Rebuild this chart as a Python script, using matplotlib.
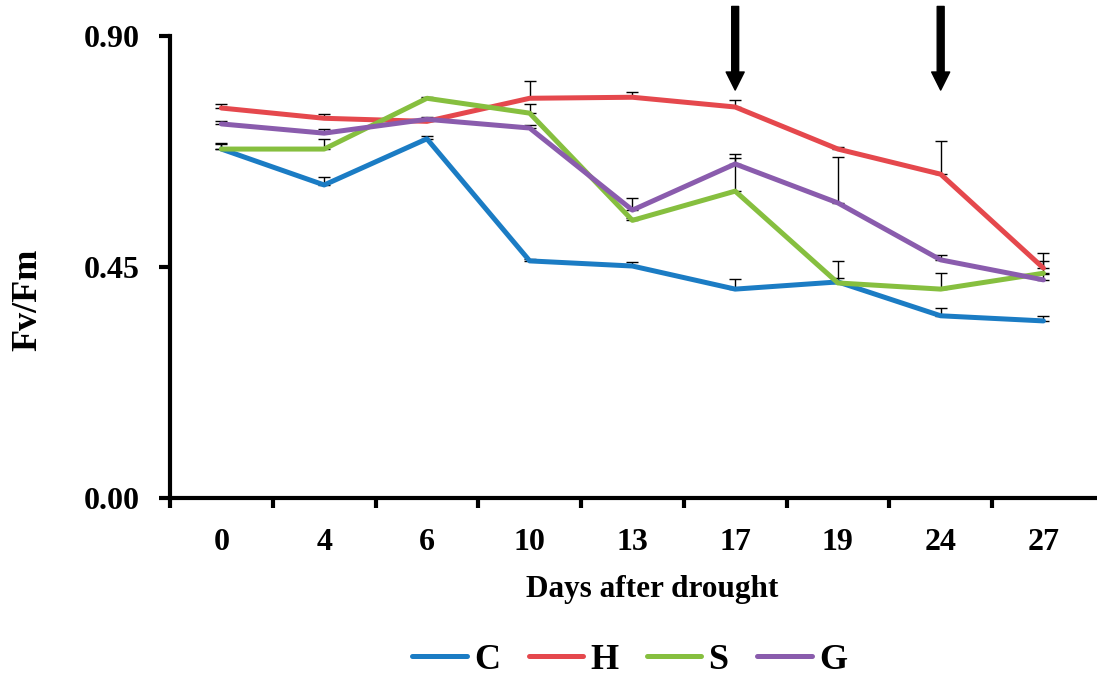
import matplotlib
matplotlib.use("Agg")
import matplotlib.pyplot as plt
import numpy as np

days = ["0", "4", "6", "10", "13", "17", "19", "24", "27"]
C = [0.680, 0.610, 0.700, 0.462, 0.452, 0.407, 0.421, 0.355, 0.345]
H = [0.760, 0.740, 0.734, 0.779, 0.781, 0.762, 0.680, 0.631, 0.448]
S = [0.680, 0.680, 0.779, 0.750, 0.541, 0.598, 0.419, 0.407, 0.438]
G = [0.729, 0.711, 0.738, 0.721, 0.561, 0.651, 0.575, 0.464, 0.425]
C_err = [0.012, 0.016, 0.006, 0.004, 0.008, 0.020, 0.008, 0.016, 0.010]
H_err = [0.008, 0.008, 0.006, 0.033, 0.010, 0.014, 0.004, 0.064, 0.029]
S_err = [0.010, 0.020, 0.002, 0.018, 0.004, 0.064, 0.043, 0.031, 0.023]
G_err = [0.006, 0.008, 0.004, 0.006, 0.023, 0.019, 0.090, 0.010, 0.012]
series_names = ["C", "H", "S", "G"]
colors = ["#1B7CC4", "#E5484D", "#86BF3F", "#8A5CAD"]
arrow_days = ["17", "24"]

plt.rcParams['font.family'] = ['Liberation Serif', 'DejaVu Serif']
plt.rcParams['font.weight'] = 'bold'

fig = plt.figure(figsize=(10.97, 6.83), dpi=100)
ax = fig.add_axes([0.155, 0.271, 0.843, 0.676])

x = np.arange(len(days))
for vals, errs, name, col in zip([C, H, S, G], [C_err, H_err, S_err, G_err], series_names, colors):
    ax.errorbar(x, vals, yerr=[np.zeros(len(errs)), errs], fmt='none', ecolor='black',
                elinewidth=1.0, capsize=4.5, capthick=1.0, zorder=2)
for vals, name, col in zip([C, H, S, G], series_names, colors):
    ax.plot(x, vals, color=col, lw=3.6, label=name, zorder=3, solid_capstyle='round')

ax.set_xlim(-0.5, len(days) - 0.5)
ax.set_ylim(0, 0.90)
ax.set_yticks([0.0, 0.45, 0.90])
ax.set_yticklabels(["0.00", "0.45", "0.90"])
ax.set_xticks(x)
ax.set_xticklabels(days)
ax.set_xticks(np.arange(-0.5, len(days) - 0.5, 1.0), minor=True)
ax.tick_params(axis='x', which='major', length=0, pad=22, labelsize=23)
ax.tick_params(axis='x', which='minor', length=7, width=3, direction='out')
ax.tick_params(axis='y', which='major', length=8, width=3, direction='out', pad=14, labelsize=23)
for lab in ax.get_xticklabels() + ax.get_yticklabels():
    lab.set_fontweight('bold')

for side in ['top', 'right']:
    ax.spines[side].set_visible(False)
for side in ['left', 'bottom']:
    ax.spines[side].set_linewidth(3)

ax.set_xlabel("Days after drought", fontsize=22.5, fontweight='bold')
ax.xaxis.set_label_coords(0.521, -0.168)
ax.set_ylabel("Fv/Fm", fontsize=26, fontweight='bold')
ax.yaxis.set_label_coords(-0.136, 0.429)

for d in arrow_days:
    xi = days.index(d)
    ax.annotate("", xy=(xi, 0.795), xytext=(xi, 0.958), xycoords='data',
                arrowprops=dict(facecolor='black', edgecolor='black', width=5.0,
                                headwidth=13, headlength=13, shrink=0),
                annotation_clip=False)

leg = fig.legend(*ax.get_legend_handles_labels(), loc='center',
                 bbox_to_anchor=(0.574, 1 - 660 / 683), ncol=4, frameon=False,
                 prop={'size': 26, 'weight': 'bold'}, handlelength=1.5, handletextpad=0.2,
                 columnspacing=0.8)
for l in leg.get_lines():
    l.set_linewidth(3.6)
    l.set_solid_capstyle('round')

fig.savefig("out.png", dpi=100)
